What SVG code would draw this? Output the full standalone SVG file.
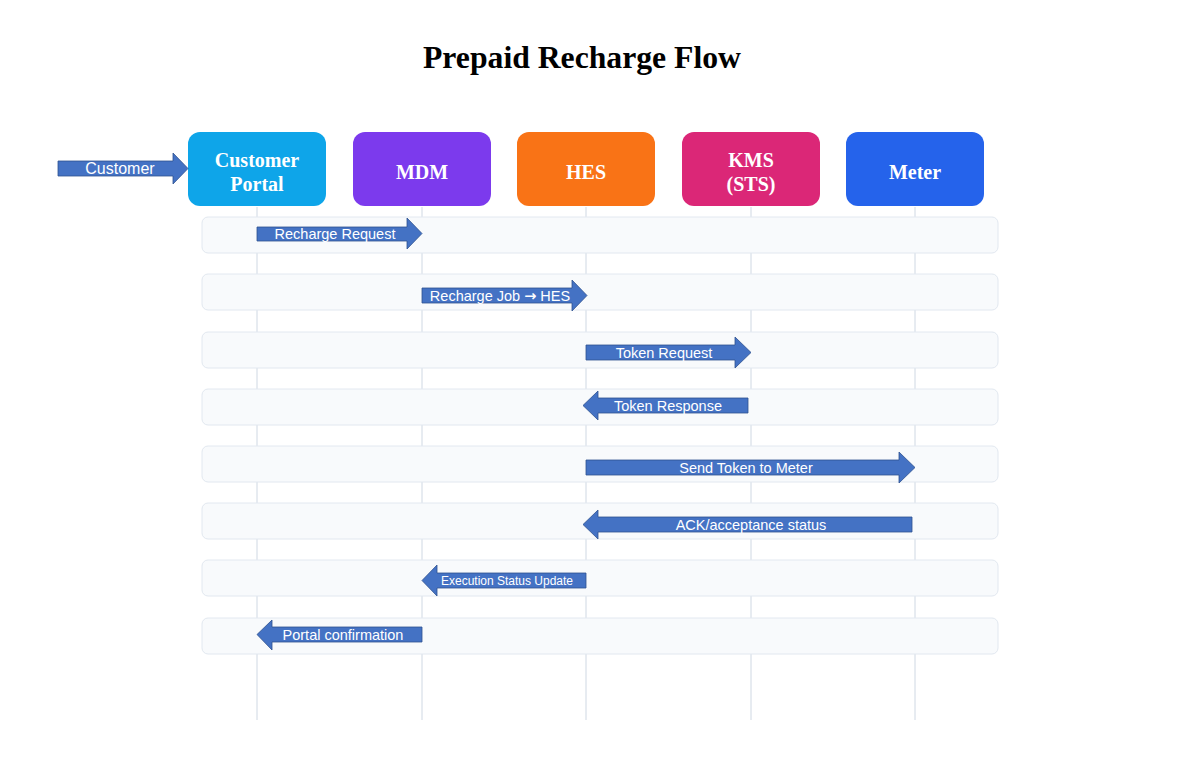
<svg xmlns="http://www.w3.org/2000/svg" width="1192" height="771" viewBox="0 0 1192 771">
<style>
.title{font-family:"Liberation Serif","Times New Roman",serif;font-weight:bold;font-size:31.7px;fill:#000}
.nt{font-family:"Liberation Serif","Times New Roman",serif;font-weight:bold;font-size:20px;fill:#fff;text-anchor:middle}
.life{stroke:#cfd8e3;stroke-width:1}
.band{fill:#f8fafc;stroke:#e2e8f0;stroke-width:1}
.arr{fill:#4472c4;stroke:#2f528f;stroke-width:0.8}
.at{font-family:"Liberation Sans",Arial,sans-serif;font-size:14.5px;fill:#fff;text-anchor:middle}
.as{font-size:12px}
.ac{font-size:16px}
</style>
<rect width="1192" height="771" fill="#fff"/>
<text class="title" x="582" y="68" text-anchor="middle">Prepaid Recharge Flow</text>

<g id="lifelines">
<line class="life" x1="257" y1="207" x2="257" y2="720"/>
<line class="life" x1="422" y1="207" x2="422" y2="720"/>
<line class="life" x1="586" y1="207" x2="586" y2="720"/>
<line class="life" x1="751" y1="207" x2="751" y2="720"/>
<line class="life" x1="915" y1="207" x2="915" y2="720"/>
</g>

<g id="bands">
<rect class="band" x="202" y="217" width="796" height="36" rx="6"/>
<rect class="band" x="202" y="274" width="796" height="36" rx="6"/>
<rect class="band" x="202" y="332" width="796" height="36" rx="6"/>
<rect class="band" x="202" y="389" width="796" height="36" rx="6"/>
<rect class="band" x="202" y="446" width="796" height="36" rx="6"/>
<rect class="band" x="202" y="503" width="796" height="36" rx="6"/>
<rect class="band" x="202" y="560" width="796" height="36" rx="6"/>
<rect class="band" x="202" y="618" width="796" height="36" rx="6"/>
</g>

<g id="node-portal">
<rect x="188" y="132" width="138" height="74" rx="12" fill="#0ea5e9"/>
<text class="nt" x="257" y="167">Customer</text>
<text class="nt" x="257" y="191">Portal</text>
</g>
<g id="node-mdm">
<rect x="353" y="132" width="138" height="74" rx="12" fill="#7c3aed"/>
<text class="nt" x="422" y="179">MDM</text>
</g>
<g id="node-hes">
<rect x="517" y="132" width="138" height="74" rx="12" fill="#f97316"/>
<text class="nt" x="586" y="179">HES</text>
</g>
<g id="node-kms">
<rect x="682" y="132" width="138" height="74" rx="12" fill="#db2777"/>
<text class="nt" x="751" y="167">KMS</text>
<text class="nt" x="751" y="191">(STS)</text>
</g>
<g id="node-meter">
<rect x="846" y="132" width="138" height="74" rx="12" fill="#2563eb"/>
<text class="nt" x="915" y="179">Meter</text>
</g>

<g id="connectors">
<g id="a-customer">
<polygon class="arr" points="58,161 173,161 173,153 188,168.5 173,184 173,176 58,176"/>
<text class="at ac" x="120" y="174">Customer</text>
</g>
<g id="a1">
<polygon class="arr" points="257,227 407,227 407,218 422,233.5 407,249 407,241 257,241"/>
<text class="at" x="335" y="239">Recharge Request</text>
</g>
<g id="a2">
<polygon class="arr" points="422,288 572,288 572,280 587,295.5 572,311 572,303 422,303"/>
<text class="at" x="500" y="301">Recharge Job <tspan font-family="DejaVu Sans" font-weight="bold">→</tspan> HES</text>
</g>
<g id="a3">
<polygon class="arr" points="586,345 735,345 735,337 751,352.5 735,368 735,360 586,360"/>
<text class="at" x="664" y="358">Token Request</text>
</g>
<g id="a4">
<polygon class="arr" points="748,398 598,398 598,391 583,405.5 598,420 598,413 748,413"/>
<text class="at" x="668" y="411">Token Response</text>
</g>
<g id="a5">
<polygon class="arr" points="586,460 899,460 899,452 915,467.5 899,483 899,475 586,475"/>
<text class="at" x="746" y="473">Send Token to Meter</text>
</g>
<g id="a6">
<polygon class="arr" points="912,517 598,517 598,510 583,524.5 598,539 598,532 912,532"/>
<text class="at" x="751" y="530">ACK/acceptance status</text>
</g>
<g id="a7">
<polygon class="arr" points="586,573 437,573 437,565 422,580.5 437,596 437,588 586,588"/>
<text class="at as" x="507" y="585">Execution Status Update</text>
</g>
<g id="a8">
<polygon class="arr" points="422,627 272,627 272,620 257,634.5 272,650 272,642 422,642"/>
<text class="at" x="343" y="640">Portal confirmation</text>
</g>
</g>
</svg>
